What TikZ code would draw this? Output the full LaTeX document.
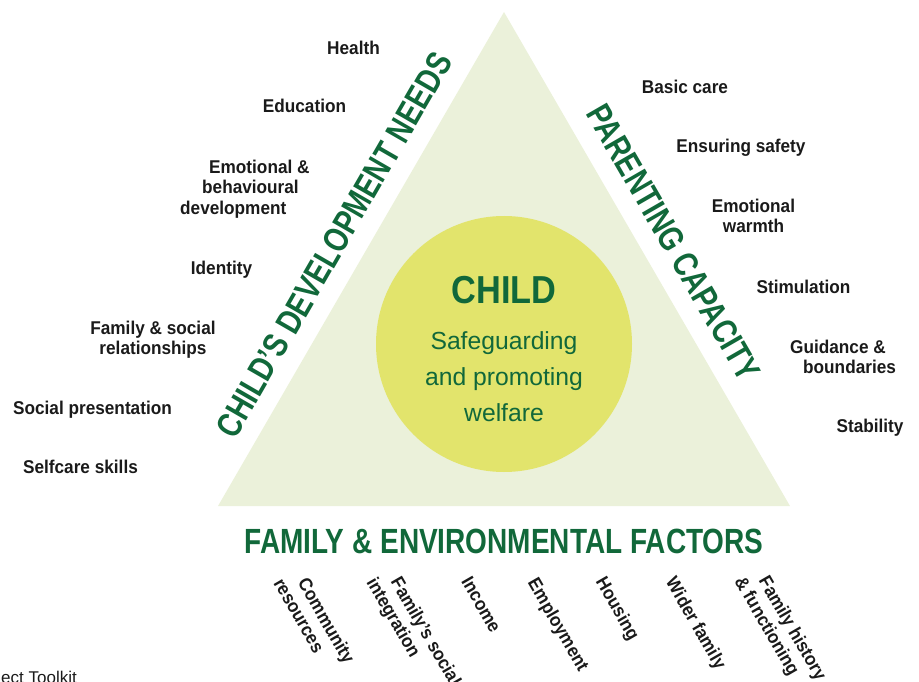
\documentclass[tikz,border=0pt]{standalone}
\usepackage{fontspec}
\setmainfont{Liberation Sans}
\newfontfamily\labelfont{Liberation Sans}[FakeStretch=0.93]
\newfontfamily\headfont{Liberation Sans}[FakeStretch=0.8]
\newfontfamily\childfont{Liberation Sans}[FakeStretch=0.88]
\usetikzlibrary{calc}
\definecolor{trifill}{HTML}{EBF1DA}
\definecolor{discfill}{HTML}{E2E46C}
\definecolor{dgreen}{HTML}{11683A}
\definecolor{ink}{HTML}{1A1A1A}

\begin{document}
\begin{tikzpicture}[x=1pt,y=-1pt,
    lab/.style={font=\labelfont\bfseries\fontsize{18.5}{20.5}\selectfont,text=ink,inner sep=0pt},
    head/.style={font=\headfont\bfseries\fontsize{35}{40}\selectfont,text=dgreen,inner sep=0pt},
    factor/.style={lab,rotate=-60,anchor=north west,align=left,font=\labelfont\bfseries\fontsize{18.5}{21}\selectfont}]
    \useasboundingbox(0,0)rectangle(919,682);
    \clip(0,0)rectangle(919,682);
    \coordinate(A)at(218,506);
    \coordinate(B)at(790,506);
    \coordinate(C)at(504,12);
    \coordinate(O)at(504,344);
    \fill[trifill](A)--(B)--(C)--cycle;
    \fill[discfill](O)circle(128);
    \node[inner sep=0pt,text=dgreen,anchor=base,font=\childfont\bfseries\fontsize{39}{44}\selectfont](child)at(504,303){CHILD};
    \node[inner sep=0pt,text=dgreen,anchor=north,align=center,font=\fontsize{24.7}{36}\selectfont](welfare)at(504,331){Safeguarding\\and promoting\\welfare};
    \node[head,rotate=60](needs)at(334,245){CHILD’S DEVELOPMENT NEEDS};
    \node[head,rotate=-60](capacity)at(673.5,242.5){PARENTING CAPACITY};
    \node[head,anchor=base](factors)at(504,553){FAMILY \& ENVIRONMENTAL FACTORS};
    \node[lab,anchor=base](health)at(353.5,55){Health};
    \node[lab,anchor=base](education)at(304.5,113){Education};
    \node[lab,anchor=north west,align=left](emotional)at(180,159.5){\hspace*{29pt}Emotional \&\\\hspace*{22pt}behavioural\\development};
    \node[lab,anchor=base](identity)at(221.5,274){Identity};
    \node[lab,anchor=north,align=center](relations)at(153,320.5){Family \& social\\relationships};
    \node[lab,anchor=base](presentation)at(92.5,414){Social presentation};
    \node[lab,anchor=base](selfcare)at(80.5,473){Selfcare skills};
    \node[lab,anchor=base](basic)at(685,94){Basic care};
    \node[lab,anchor=base](safety)at(741,153){Ensuring safety};
    \node[lab,anchor=north,align=center](warmth)at(753.5,198.5){Emotional\\warmth};
    \node[lab,anchor=base](stimulation)at(803.5,293){Stimulation};
    \node[lab,anchor=north west,align=left](guidance)at(790,339.5){Guidance \&\\\hspace*{13pt}boundaries};
    \node[lab,anchor=base](stability)at(870,432){Stability};
    \node[factor](community)at(309,576){Community\\\hspace*{-12pt}resources};
    \node[factor](integration)at(402,575){Family’s social\\\hspace*{-12pt}integration};
    \node[factor](income)at(472,575){Income};
    \node[factor](employment)at(539,576){Employment};
    \node[factor](housing)at(607,575){Housing};
    \node[factor](wider)at(677,575){Wider family};
    \node[factor](history)at(770,574){Family history\\\hspace*{-12pt}\& functioning};
    \node[inner sep=0pt,anchor=north west,text=ink,font=\fontsize{17}{20}\selectfont](toolkit)at(1,671){ect Toolkit};
\end{tikzpicture}
\end{document}
